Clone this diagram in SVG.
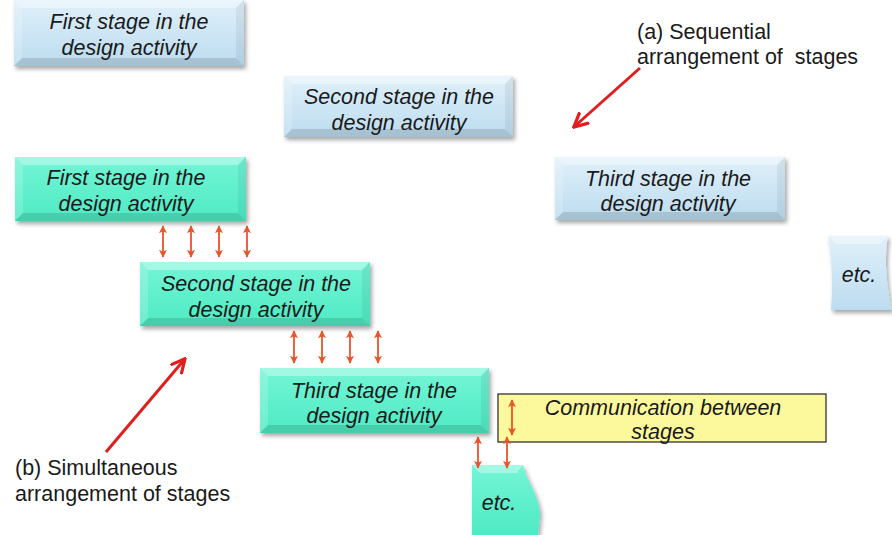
<svg xmlns="http://www.w3.org/2000/svg" width="892" height="535" viewBox="0 0 892 535">
  <defs>
    <linearGradient id="blueFill" x1="0" y1="0" x2="0" y2="1">
      <stop offset="0" stop-color="#e0f0fa"/>
      <stop offset="1" stop-color="#bcdcef"/>
    </linearGradient>
    <linearGradient id="greenFill" x1="0" y1="0" x2="0" y2="1">
      <stop offset="0" stop-color="#74f5d6"/>
      <stop offset="1" stop-color="#4eeac3"/>
    </linearGradient>
    <filter id="shadow" x="-10%" y="-10%" width="125%" height="135%">
      <feDropShadow dx="2" dy="3" stdDeviation="2" flood-color="#000" flood-opacity="0.35"/>
    </filter>
    <marker id="tip" viewBox="0 0 10 10" refX="9" refY="5" markerWidth="8" markerHeight="8" markerUnits="userSpaceOnUse" orient="auto-start-reverse">
      <path d="M0,0 L10,5 L0,10 L2.5,5 Z" fill="#ea5429"/>
    </marker>
    <marker id="redTip" viewBox="0 0 10 10" refX="8" refY="5" markerWidth="16" markerHeight="16" markerUnits="userSpaceOnUse" orient="auto">
      <path d="M0,0.5 L9,5 L0,9.5" fill="none" stroke="#e11d1d" stroke-width="2" stroke-linejoin="miter"/>
    </marker>
  </defs>
  <style>
    .box { filter: url(#shadow); }
    .blue { fill: url(#blueFill); }
    .green { fill: url(#greenFill); }
    .hi { fill: #ffffff; opacity: 0.35; }
    .hiL { fill: #ffffff; opacity: 0.18; }
    .shR { fill: #000000; opacity: 0.06; }
    .shB { fill: #000000; opacity: 0.12; }
    .t { font-family: "Liberation Sans", Arial, sans-serif; font-style: italic; font-size: 21.5px; fill: #1a1a1a; text-anchor: middle; }
    .lbl { font-family: "Liberation Sans", Arial, sans-serif; font-size: 21.5px; fill: #1a1a1a; }
    .dbl { stroke: #ea5429; stroke-width: 1.8; fill: none; marker-start: url(#tip); marker-end: url(#tip); }
    .red { stroke: #e11d1d; stroke-width: 3; fill: none; marker-end: url(#redTip); }
  </style>

  <!-- (a) sequential stages -->
  <g id="seq1" transform="translate(14,0)">
    <rect class="box blue" width="230" height="66"/>
    <polygon class="hi" points="0,0 230,0 222,8 8,8"/>
    <polygon class="hiL" points="0,0 8,8 8,58 0,66"/>
    <polygon class="shR" points="230,0 230,66 222,58 222,8"/>
    <polygon class="shB" points="0,66 230,66 222,58 8,58"/>
    <text class="t" x="115" y="29">First stage in the</text>
    <text class="t" x="115" y="55">design activity</text>
  </g>

  <g id="seq2" transform="translate(284,76)">
    <rect class="box blue" width="229" height="61"/>
    <polygon class="hi" points="0,0 229,0 221,8 8,8"/>
    <polygon class="hiL" points="0,0 8,8 8,53 0,61"/>
    <polygon class="shR" points="229,0 229,61 221,53 221,8"/>
    <polygon class="shB" points="0,61 229,61 221,53 8,53"/>
    <text class="t" x="115" y="28">Second stage in the</text>
    <text class="t" x="115" y="54">design activity</text>
  </g>

  <g id="seq3" transform="translate(555,157)">
    <rect class="box blue" width="230" height="63"/>
    <polygon class="hi" points="0,0 230,0 222,8 8,8"/>
    <polygon class="hiL" points="0,0 8,8 8,55 0,63"/>
    <polygon class="shR" points="230,0 230,63 222,55 222,8"/>
    <polygon class="shB" points="0,63 230,63 222,55 8,55"/>
    <text class="t" x="113" y="29">Third stage in the</text>
    <text class="t" x="113" y="54">design activity</text>
  </g>

  <g id="seqEtc">
    <path class="box blue" d="M828,236 L888,236 C884,256 886,286 892,310 L831,310 C833,285 832,258 828,236 Z"/>
    <polygon class="hi" points="828,236 888,236 880,244 836,244"/>
    <text class="t" x="859" y="282">etc.</text>
  </g>

  <!-- (b) simultaneous stages -->
  <g id="sim1" transform="translate(15,157)">
    <rect class="box green" width="231" height="64"/>
    <polygon class="hi" points="0,0 231,0 223,8 8,8"/>
    <polygon class="hiL" points="0,0 8,8 8,56 0,64"/>
    <polygon class="shR" points="231,0 231,64 223,56 223,8"/>
    <polygon class="shB" points="0,64 231,64 223,56 8,56"/>
    <text class="t" x="111" y="28">First stage in the</text>
    <text class="t" x="111" y="54">design activity</text>
  </g>

  <g id="sim2" transform="translate(140,262)">
    <rect class="box green" width="230" height="64"/>
    <polygon class="hi" points="0,0 230,0 222,8 8,8"/>
    <polygon class="hiL" points="0,0 8,8 8,56 0,64"/>
    <polygon class="shR" points="230,0 230,64 222,56 222,8"/>
    <polygon class="shB" points="0,64 230,64 222,56 8,56"/>
    <text class="t" x="116" y="29">Second stage in the</text>
    <text class="t" x="116" y="55">design activity</text>
  </g>

  <g id="sim3" transform="translate(260,368)">
    <rect class="box green" width="229" height="65"/>
    <polygon class="hi" points="0,0 229,0 221,8 8,8"/>
    <polygon class="hiL" points="0,0 8,8 8,57 0,65"/>
    <polygon class="shR" points="229,0 229,65 221,57 221,8"/>
    <polygon class="shB" points="0,65 229,65 221,57 8,57"/>
    <text class="t" x="114" y="30">Third stage in the</text>
    <text class="t" x="114" y="55">design activity</text>
  </g>

  <g id="simEtc">
    <path class="box green" d="M472,465 L523,465 C527,482 540,496 540,515 L538,535 L472,535 Z"/>
    <polygon class="hi" points="472,465 523,465 517,473 480,473"/>
    <text class="t" x="499" y="510">etc.</text>
  </g>

  <g id="legend">
    <rect x="498" y="394" width="328" height="48" fill="#fbf99b" stroke="#333" stroke-width="1.3"/>
    <line class="dbl" x1="512" y1="400" x2="512" y2="435"/>
    <text class="t" x="663" y="415">Communication between</text>
    <text class="t" x="663" y="439">stages</text>
  </g>

  <g id="labels">
    <text class="lbl" x="637" y="39">(a) Sequential</text>
    <text class="lbl" x="637" y="64" xml:space="preserve">arrangement of  stages</text>
    <text class="lbl" x="15" y="475">(b) Simultaneous</text>
    <text class="lbl" x="15" y="501">arrangement of stages</text>
  </g>

  <g id="connectors">
    <!-- communication between stage 1 and 2 -->
    <line class="dbl" x1="163" y1="226" x2="163" y2="257"/>
    <line class="dbl" x1="191" y1="226" x2="191" y2="257"/>
    <line class="dbl" x1="219" y1="226" x2="219" y2="257"/>
    <line class="dbl" x1="247" y1="226" x2="247" y2="257"/>
    <!-- communication between stage 2 and 3 -->
    <line class="dbl" x1="294" y1="331" x2="294" y2="363"/>
    <line class="dbl" x1="322" y1="331" x2="322" y2="363"/>
    <line class="dbl" x1="350" y1="331" x2="350" y2="363"/>
    <line class="dbl" x1="378" y1="331" x2="378" y2="363"/>
    <!-- communication between stage 3 and the next -->
    <line class="dbl" x1="478" y1="437" x2="478" y2="468"/>
    <line class="dbl" x1="507" y1="437" x2="507" y2="468"/>
    <!-- pointers to the two arrangements -->
    <line class="red" x1="640" y1="68" x2="575" y2="126"/>
    <line class="red" x1="106" y1="452" x2="184" y2="360"/>
  </g>
</svg>
